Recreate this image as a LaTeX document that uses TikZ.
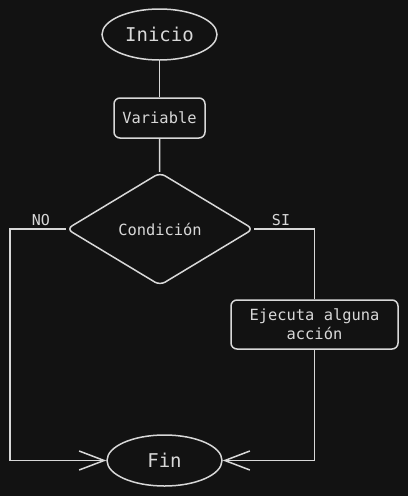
\documentclass[tikz,border=0pt]{standalone}
\usepackage{fontspec}
\setmonofont{DejaVu Sans Mono}
\usetikzlibrary{shapes.geometric,arrows.meta}
\definecolor{bg}{HTML}{121212}
\definecolor{ink}{HTML}{D8D8D8}
\begin{document}
\begin{tikzpicture}[x=1pt,y=-1pt,
  every node/.style={text=ink,font=\ttfamily},
  line/.style={draw=ink,line width=1.5pt},
  ovalbox/.style={line,ellipse,minimum width=115pt,minimum height=51pt,inner sep=0pt,font=\ttfamily\fontsize{19}{22}\selectfont},
  rbox/.style={line,rectangle,rounded corners=6pt,inner sep=0pt,font=\ttfamily\fontsize{15.4}{19}\selectfont},
  decision/.style={line,diamond,rounded corners=6pt,minimum width=187pt,minimum height=113pt,inner sep=0pt,aspect=1.66,font=\ttfamily\fontsize{15.4}{19}\selectfont},
  lbl/.style={font=\ttfamily\fontsize{15}{18}\selectfont},
  arr/.style={line,-{Straight Barb[length=25pt,width=19pt,line width=1.5pt]}}]
\fill[bg] (0,0) rectangle (408,496);
\useasboundingbox (0,0) rectangle (408,496);
\node[ovalbox] (inicio) at (159.5,34.5) {Inicio};
\node[rbox,minimum width=91pt,minimum height=40pt] (var) at (159.5,118) {Variable};
\node[decision] (cond) at (160,229) {Condición};
\node[rbox,minimum width=167pt,minimum height=49pt,align=center] (accion) at (314.5,324.5) {Ejecuta alguna\\acción};
\node[ovalbox] (fin) at (164.5,460.5) {Fin};
\node[lbl] (no) at (41,220) {NO};
\node[lbl] (si) at (281,220) {SI};
\coordinate (nl) at (10,229);
\draw[line] (inicio) -- (var);
\draw[line] (var) -- (cond);
\draw[arr] (cond.west) -- (nl) |- (fin.west);
\draw[line] (cond.east) -| (accion.north);
\draw[arr] (accion.south) |- (fin.east);
\end{tikzpicture}
\end{document}
